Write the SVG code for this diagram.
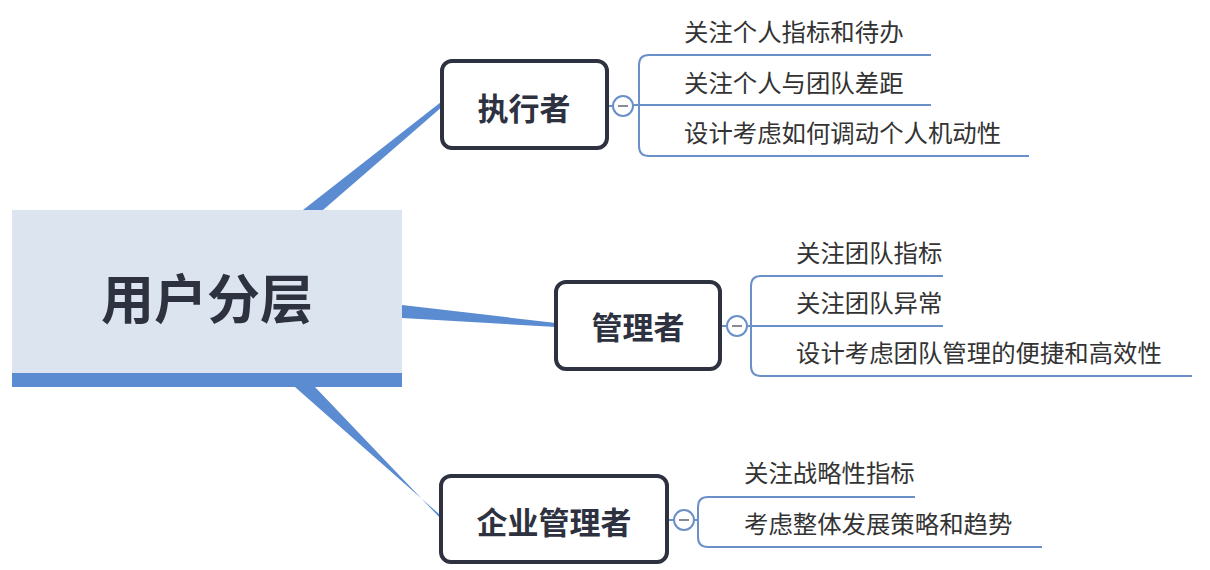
<svg xmlns="http://www.w3.org/2000/svg" width="1210" height="570" viewBox="0 0 1210 570">
<style>
.wedge{fill:#5b8bd0;}
.box{fill:#ffffff;stroke:#2e3240;stroke-width:4;}
.btxt{font-family:"Noto Sans CJK SC","Noto Sans",sans-serif;font-weight:bold;font-size:31px;fill:#2e3240;text-anchor:middle;dominant-baseline:central;}
.leaf{font-family:"Noto Sans CJK SC","Noto Sans",sans-serif;font-size:24.4px;fill:#333333;}
.br{fill:none;stroke:#6b8fc9;stroke-width:2;}
.cir{fill:#ffffff;stroke:#6b8fc9;stroke-width:2;}
.minus{stroke:#8a8a95;stroke-width:2;}
</style>
<rect width="1210" height="570" fill="#ffffff"/>
<g id="connectors">
<polygon class="wedge" points="303,210 323,210 443,106 441,102"/>
<polygon class="wedge" points="402,305 402,318 556,327 556,323"/>
<polygon class="wedge" points="295,387 315,387 441,519 439,514"/>
<g id="branch-exec">
<line class="br" x1="608" y1="106" x2="612" y2="106"/>
<path class="br" d="M931,55 H649 Q639,55 639,65 V146 Q639,156 649,156 H1029"/>
<line class="br" x1="634" y1="105" x2="931" y2="105"/>
</g>
<g id="branch-mgr">
<line class="br" x1="720" y1="326" x2="726" y2="326"/>
<path class="br" d="M943,276 H761 Q751,276 751,286 V366 Q751,376 761,376 H1192"/>
<line class="br" x1="748" y1="326" x2="943" y2="326"/>
</g>
<g id="branch-ent">
<line class="br" x1="667" y1="520" x2="673" y2="520"/>
<path class="br" d="M915,497 H708 Q698,497 698,507 V537 Q698,547 708,547 H1042"/>
<line class="br" x1="695" y1="520" x2="698" y2="520"/>
</g>
</g>
<g id="root">
<rect x="12" y="210" width="390" height="164" fill="#dce4f0"/>
<rect x="12" y="373" width="390" height="14" fill="#5b8bd0"/>
<text x="207" y="296" font-family="Noto Sans CJK SC,Noto Sans,sans-serif" font-weight="bold" font-size="53" fill="#2e3240" text-anchor="middle" dominant-baseline="central">用户分层</text>
</g>
<g id="node-exec">
<rect class="box" x="442" y="61" width="165" height="87" rx="10"/>
<text class="btxt" x="524" y="106">执行者</text>
<circle class="cir" cx="623" cy="106" r="10"/>
<line class="minus" x1="618" y1="106" x2="628" y2="106"/>
</g>
<g id="node-mgr">
<rect class="box" x="556" y="282" width="164" height="87" rx="10"/>
<text class="btxt" x="638" y="325">管理者</text>
<circle class="cir" cx="737" cy="326" r="10"/>
<line class="minus" x1="732" y1="326" x2="742" y2="326"/>
</g>
<g id="node-ent">
<rect class="box" x="441" y="476" width="226" height="86" rx="10"/>
<text class="btxt" x="554" y="520">企业管理者</text>
<circle class="cir" cx="684" cy="520" r="10"/>
<line class="minus" x1="679" y1="520" x2="689" y2="520"/>
</g>
<g id="leaf-e1"><text class="leaf" x="684" y="41">关注个人指标和待办</text></g>
<g id="leaf-e2"><text class="leaf" x="684" y="92">关注个人与团队差距</text></g>
<g id="leaf-e3"><text class="leaf" x="684" y="142">设计考虑如何调动个人机动性</text></g>
<g id="leaf-m1"><text class="leaf" x="796" y="262">关注团队指标</text></g>
<g id="leaf-m2"><text class="leaf" x="796" y="312">关注团队异常</text></g>
<g id="leaf-m3"><text class="leaf" x="796" y="362">设计考虑团队管理的便捷和高效性</text></g>
<g id="leaf-c1"><text class="leaf" x="744" y="482">关注战略性指标</text></g>
<g id="leaf-c2"><text class="leaf" x="744" y="533">考虑整体发展策略和趋势</text></g>
</svg>
